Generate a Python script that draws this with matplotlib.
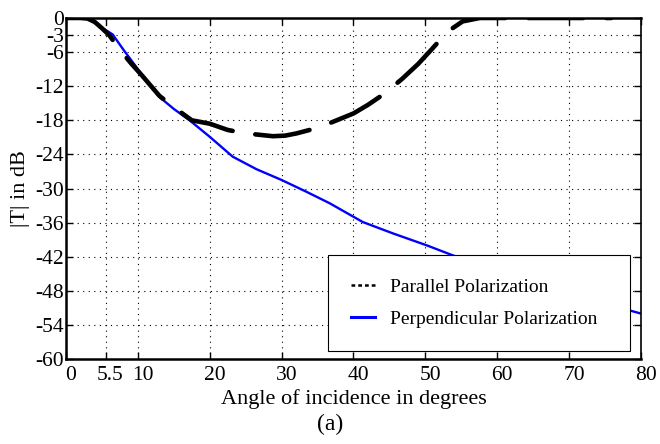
import matplotlib.pyplot as plt
import matplotlib.transforms as mtransforms
from matplotlib.lines import Line2D

# |T| versus angle of incidence
perp_angle = [0, 1, 2, 3, 4, 4.7, 5.5, 6.5, 8, 10.3, 13, 15, 17.2, 20, 23.2,
              26.5, 30, 33.5, 36.7, 41.3, 45.5, 50.2, 53.7, 60, 70, 80]
perp_db = [0, 0, 0, -0.1, -0.6, -1.6, -2.1, -2.9, -5.6, -9.5, -13.9, -16.0,
           -18.0, -20.9, -24.4, -26.6, -28.5, -30.6, -32.6, -35.9, -37.9,
           -40.0, -41.7, -44.5, -48.5, -52.0]

par_angle = [0, 1, 2, 3, 4, 5, 6, 7.5, 9, 10.7, 13, 15, 17.5, 20, 22.5, 25,
             28.8, 30.5, 32.1, 34.5, 36.7, 40, 42, 44.1, 46.7, 49, 50.9,
             53.1, 55.2, 57.6, 60, 65, 70, 75.9]
par_db = [0, 0, 0, -0.1, -0.7, -1.8, -3.0, -5.6, -7.9, -10.3, -13.7, -15.7,
          -18.0, -18.6, -19.7, -20.3, -20.8, -20.7, -20.3, -19.5, -18.5,
          -16.8, -15.3, -13.5, -10.8, -8.1, -5.5, -2.4, -0.6, 0, 0, 0, 0, 0]

x_ticks = [0, 5.5, 10, 20, 30, 40, 50, 60, 70, 80]
x_tick_labels = ["0", "5.5", "10", "20", "30", "40", "50", "60", "70", "80"]
y_ticks = [0, -3, -6, -12, -18, -24, -30, -36, -42, -48, -54, -60]

plt.rcParams['font.family'] = ['Liberation Serif', 'DejaVu Serif']
plt.rcParams['axes.unicode_minus'] = False

fig = plt.figure(figsize=(6.6, 4.44), dpi=100)
ax = fig.add_axes([0.1, 0.1914, 0.871, 0.7681])

# Parallel: thick black dashes, perpendicular: blue line
ax.plot(par_angle, par_db, color='black', linewidth=3.3,
        dashes=(12, 5), dash_capstyle='round', zorder=3)
ax.plot(perp_angle, perp_db, color='blue', linewidth=1.7, zorder=2)

ax.set_xlim(0, 80)
ax.set_ylim(-60, 0)
ax.set_xticks(x_ticks)
ax.set_xticklabels(x_tick_labels)
ax.set_yticks(y_ticks)
ax.tick_params(direction='in', length=5, width=1, labelsize=15.5,
               top=True, right=True, pad=1.5)
ax.tick_params(axis='x', pad=5)
ax.grid(True, linestyle=(0, (1, 4)), color='black', linewidth=0.8)

# x tick labels sit a little to the right of their ticks in the original
shift = mtransforms.ScaledTranslation(5 / 100, 0, fig.dpi_scale_trans)
for lbl in ax.get_xticklabels():
    lbl.set_transform(lbl.get_transform() + shift)

for side in ['left', 'bottom', 'top']:
    ax.spines[side].set_linewidth(1.8)
ax.spines['right'].set_linewidth(1.2)

ax.set_xlabel("Angle of incidence in degrees", fontsize=16, labelpad=3)
ax.set_ylabel("|T| in dB", fontsize=16, labelpad=4)
fig.text(0.5, 0.043, "(a)", ha='center', va='center', fontsize=17)

handles = [Line2D([], [], color='black', linewidth=1.8, linestyle=(0, (1.5, 1.2))),
           Line2D([], [], color='blue', linewidth=2.2)]
leg = ax.legend(handles, ["Parallel Polarization", "Perpendicular Polarization"],
                loc='upper left', bbox_to_anchor=(0.456, 0.305, 0.525, 0.0),
                mode='expand', fontsize=14, frameon=True, fancybox=False,
                edgecolor='black', framealpha=1, handlelength=1.2,
                handletextpad=0.8, borderpad=1.2, labelspacing=0.72,
                borderaxespad=0)
leg.get_frame().set_linewidth(0.8)

fig.savefig("out.png", dpi=100)
